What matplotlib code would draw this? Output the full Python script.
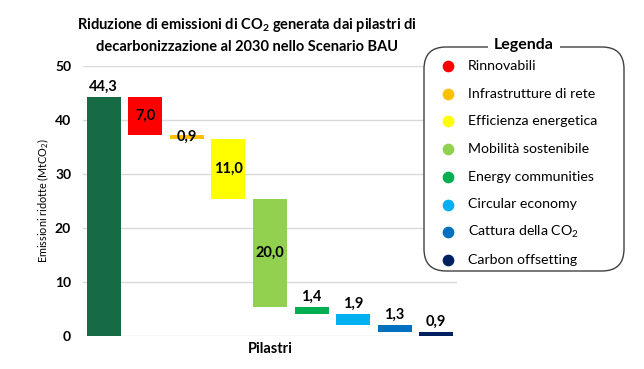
import matplotlib
matplotlib.use("Agg")
import matplotlib.pyplot as plt
from matplotlib.patches import FancyBboxPatch
import numpy as np

plt.rcParams['font.family'] = ['Lato', 'DejaVu Sans']
plt.rcParams['mathtext.default'] = 'regular'

total_label = "44,3"
total_value = 44.3
categories = ["Rinnovabili", "Infrastrutture di rete", "Efficienza energetica",
              "Mobilità sostenibile", "Energy communities", "Circular economy",
              "Cattura della CO$_2$", "Carbon offsetting"]
values = [7.0, 0.9, 11.0, 20.0, 1.4, 1.9, 1.3, 0.9]
labels = ["7,0", "0,9", "11,0", "20,0", "1,4", "1,9", "1,3", "0,9"]
total_color = "#166B45"
colors = ["#FF0000", "#FFC000", "#FFFF00", "#92D050", "#00B050", "#00B0F0", "#0070C0", "#002060"]
label_inside = [True, True, True, True, False, False, False, False]
yticks = [0, 10, 20, 30, 40, 50]

W, H = 644, 369
fig = plt.figure(figsize=(W/100, H/100), dpi=100)
ax = fig.add_axes([83/W, 1-336/H, (457-83)/W, (336-66)/H])

x = np.arange(len(values) + 1)
bw = 0.82
ax.bar(x[0], total_value, width=bw, color=total_color, zorder=3)
ax.text(x[0], total_value + 0.6, total_label, ha='center', va='bottom',
        fontsize=10.5, fontweight='bold', zorder=4)
top = total_value
for i, (v, lab, c, inside) in enumerate(zip(values, labels, colors, label_inside)):
    bottom = top - v
    ax.bar(x[i+1], v, bottom=bottom, width=bw, color=c, zorder=3)
    if inside:
        ax.text(x[i+1], bottom + v/2, lab, ha='center', va='center',
                fontsize=10.5, fontweight='bold', zorder=4)
    else:
        ax.text(x[i+1], top + 0.6, lab, ha='center', va='bottom',
                fontsize=10.5, fontweight='bold', zorder=4)
    top = bottom

ax.set_xlim(-0.5, len(values) + 0.5)
ax.set_ylim(0, 50)
ax.set_yticks(yticks)
ax.set_yticklabels([str(t) for t in yticks], fontsize=10, fontweight='bold')
ax.set_xticks([])
ax.grid(axis='y', color='#D9D9D9', linewidth=1, zorder=0)
for s in ax.spines.values():
    s.set_visible(False)
ax.tick_params(axis='y', length=0, pad=8.5)
ax.set_xlabel("Pilastri", fontsize=10.5, fontweight='bold', labelpad=4)
ax.set_ylabel("Emissioni ridotte (MtCO$_2$)", fontsize=7.8, labelpad=2.5)

fig.text(247/W, 1-35/H,
         "Riduzione di emissioni di CO$_2$ generata dai pilastri di\ndecarbonizzazione al 2030 nello Scenario BAU",
         ha='center', va='center', fontsize=10.5, fontweight='bold', linespacing=1.5)

# legend
lax = fig.add_axes([0, 0, 1, 1])
lax.set_xlim(0, W)
lax.set_ylim(H, 0)
lax.axis('off')
box = FancyBboxPatch((424, 47), 200, 224, boxstyle="round,pad=0,rounding_size=22",
                     fc='white', ec='#404040', lw=1.0)
lax.add_patch(box)
lax.text(524, 45, "Legenda", ha='center', va='center', fontsize=11.5, fontweight='bold',
         bbox=dict(fc='white', ec='none', pad=4))
y0, dy = 66, 27.7
for i, (c, name) in enumerate(zip(colors, categories)):
    yy = y0 + i*dy
    lax.scatter([448], [yy], s=55, color=c, zorder=3)
    lax.text(468, yy, name, ha='left', va='center', fontsize=10.2)

fig.savefig("out.png", dpi=100)
